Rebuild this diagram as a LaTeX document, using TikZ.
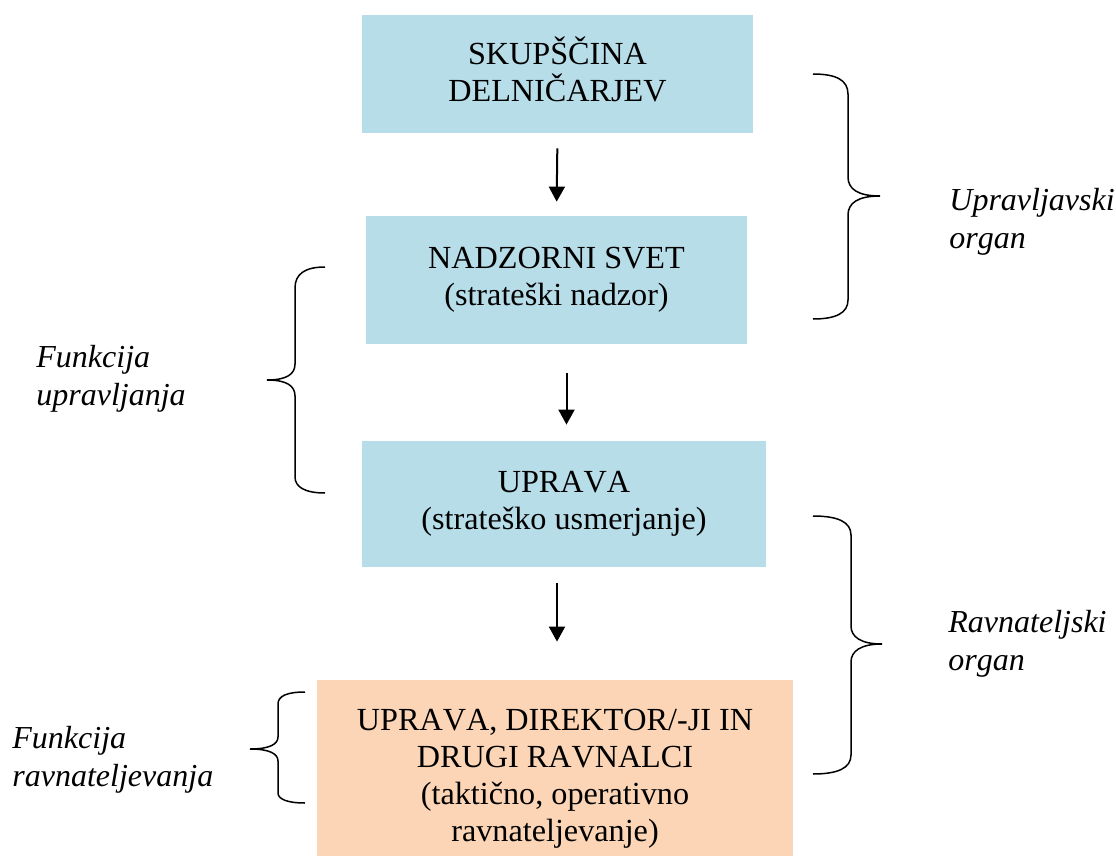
\documentclass[tikz,border=0pt]{standalone}
\usepackage{fontspec}
\setmainfont{Liberation Serif}[Kerning=Off]
\usetikzlibrary{arrows.meta}

\definecolor{boxblue}{HTML}{B7DDE8}
\definecolor{boxpeach}{HTML}{FBD5B5}

\begin{document}
\begin{tikzpicture}[x=0.5pt, y=-0.5pt, font=\fontsize{16.1}{18.4}\selectfont,
  bluebox/.style={fill=boxblue, align=center, inner sep=0pt},
  peachbox/.style={fill=boxpeach, align=center, inner sep=0pt},
  flowedge/.style={draw=black, line width=1pt, -{Triangle[length=7.5pt, width=8pt]}},
  bracel/.style={draw=black, line width=0.75pt},
  lbl/.style={anchor=west, align=left, inner sep=0pt, font=\fontsize{16}{19}\selectfont\itshape}
]
  \useasboundingbox (0,0) rectangle (1116,857);
  % boxes
  \node[bluebox, minimum width=195.5pt, minimum height=59pt, text depth=5pt] (SK) at (557.5,74) {SKUPŠČINA\\DELNIČARJEV};
  \node[bluebox, minimum width=190.5pt, minimum height=64pt] (NS) at (556.5,280) {NADZORNI SVET\\(strateški nadzor)};
  \node[bluebox, minimum width=202pt, minimum height=63pt] (UP) at (564,504) {UPRAVA\\(strateško usmerjanje)};
  \node[peachbox, minimum width=238pt, minimum height=88pt] (RV) at (555,768) {\rule{0pt}{21.5pt}UPRAVA, DIREKTOR/-JI IN\\DRUGI RAVNALCI\\(taktično, operativno\\ravnateljevanje)};
  % arrows
  \coordinate (a2) at ([xshift=5pt]NS.south);
  \coordinate (a3) at ([xshift=-3.5pt]UP.south);
  \draw[flowedge, shorten <=7.5pt, shorten >=7pt] (SK.south) -- (NS.north);
  \draw[flowedge, shorten <=14.5pt, shorten >=8pt] (a2) -- (a2 |- UP.north);
  \draw[flowedge, shorten <=8pt, shorten >=19pt] (a3) -- (a3 |- RV.north);
  % braces
  \draw[bracel] (813,74) .. controls (836,74) and (848,80) .. (848,94) -- (848,177)
    .. controls (848,189) and (858,196) .. (880,196) .. controls (858,196) and (848,203) .. (848,215)
    -- (848,300) .. controls (848,313) and (836,319) .. (813,319);
  \draw[bracel] (325,267) .. controls (305,267) and (295,274) .. (295,288) -- (295,364)
    .. controls (295,374) and (287,380) .. (267,380) .. controls (287,380) and (295,386) .. (295,396)
    -- (295,477) .. controls (295,487) and (305,493) .. (325,493);
  \draw[bracel] (813,516) .. controls (838,516) and (851,522) .. (851,535) -- (851,626)
    .. controls (851,637) and (861,644) .. (882,644) .. controls (861,644) and (851,651) .. (851,662)
    -- (851,755) .. controls (851,768) and (838,774) .. (813,774);
  \draw[bracel] (305,692) .. controls (287,692) and (278,696) .. (278,704) -- (278,737)
    .. controls (278,744) and (270,749) .. (250,749) .. controls (270,749) and (278,754) .. (278,761)
    -- (278,793) .. controls (278,799) and (287,803) .. (305,803);
  % labels
  \node[lbl] (UO) at (949,222) {Upravljavski\\organ};
  \node[lbl] (FU) at (36,379) {Funkcija\\upravljanja};
  \node[lbl] (RO) at (948,644) {Ravnateljski\\organ};
  \node[lbl] (FR) at (12,760) {Funkcija\\ravnateljevanja};
\end{tikzpicture}
\end{document}
